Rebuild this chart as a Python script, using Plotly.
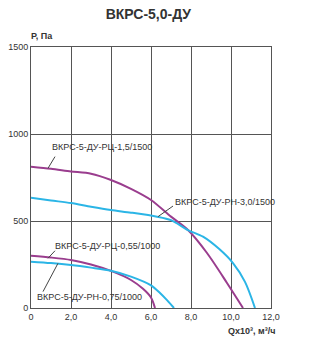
import plotly.graph_objects as go

# Data (flow Q x10^3 m3/h, pressure P Pa)
q_rc15 = [0, 1.0, 2.0, 3.0, 4.0, 5.0, 6.0, 7.0, 7.85, 8.8, 9.8, 10.6]
p_rc15 = [812, 800, 785, 772, 736, 685, 621, 525, 448, 316, 144, 0]

q_rn30 = [0, 1.0, 2.0, 3.0, 4.0, 5.0, 6.3, 7.0, 7.85, 8.6, 9.4, 10.1, 10.7, 11.2]
p_rn30 = [634, 618, 603, 582, 563, 548, 525, 505, 448, 410, 340, 258, 150, 0]

q_rc055 = [0, 1.0, 2.0, 3.0, 4.0, 5.0, 5.6, 6.0, 6.2]
p_rc055 = [300, 290, 276, 250, 213, 161, 110, 60, 0]

q_rn075 = [0, 1.0, 2.0, 3.0, 4.0, 5.0, 6.0, 6.45, 6.8, 7.15]
p_rn075 = [266, 258, 247, 232, 214, 180, 130, 86, 45, 0]

labels = ["ВКРС-5-ДУ-РЦ-1,5/1500", "ВКРС-5-ДУ-РН-3,0/1500",
          "ВКРС-5-ДУ-РЦ-0,55/1000", "ВКРС-5-ДУ-РН-0,75/1000"]
x_ticks = [0, 2, 4, 6, 8, 10, 12]
x_ticktext = ["0", "2,0", "4,0", "6,0", "8,0", "10,0", "12,0"]
y_ticks = [0, 500, 1000, 1500]

MAG = "#9A3D8E"
CYAN = "#2BB5E6"

fig = go.Figure()
for q, p, c in [(q_rc15, p_rc15, MAG), (q_rn30, p_rn30, CYAN),
                (q_rc055, p_rc055, MAG), (q_rn075, p_rn075, CYAN)]:
    fig.add_trace(go.Scatter(x=q, y=p, mode="lines",
                             line=dict(color=c, width=2, shape="spline", smoothing=0.8),
                             hoverinfo="skip", showlegend=False))

font = "Liberation Sans, Arial, sans-serif"
label_pos = [(0.95, 927), (7.1, 611), (1.1, 358), (0.2, 65)]
leaders = [((1.2, 870), (0.85, 803)), ((7.1, 586), (6.35, 525)),
           ((1.2, 329), (0.85, 286)), ((0.6, 94), (1.35, 257))]
annotations = []
for t, (lx, ly) in zip(labels, label_pos):
    annotations.append(dict(x=lx, y=ly, text=t, showarrow=False, xanchor="left",
                            yanchor="middle", font=dict(family=font, size=9, color="#333333")))
shapes = []
for (a, b) in leaders:
    shapes.append(dict(type="line", x0=a[0], y0=a[1], x1=b[0], y1=b[1],
                       line=dict(color="#444444", width=1)))

annotations.append(dict(x=0, y=1, xref="paper", yref="paper", text="<b>Р, Па</b>",
                        showarrow=False, xanchor="left", yanchor="bottom", xshift=-2, yshift=4,
                        font=dict(family=font, size=9, color="#333333")))
annotations.append(dict(x=1, y=0, xref="paper", yref="paper", text="<b>Qx10³, м³/ч</b>",
                        showarrow=False, xanchor="right", yanchor="top",
                        font=dict(family=font, size=9, color="#333333"), xshift=6, yshift=-16))

fig.update_layout(
    width=319, height=341,
    margin=dict(l=31, r=48, t=47, b=33, autoexpand=False),
    paper_bgcolor="white", plot_bgcolor="white",
    title=dict(text="<b>ВКРС-5,0-ДУ</b>", x=0.465, xanchor="center", y=0.96, yanchor="middle",
               font=dict(family=font, size=14, color="#333333")),
    xaxis=dict(range=[0, 12], tickvals=x_ticks, ticktext=x_ticktext, showgrid=True, automargin=False,
               gridcolor="#555555", gridwidth=1, zeroline=False, showline=True, linecolor="#555555",
               mirror=True, ticks="", tickfont=dict(family=font, size=9, color="#333333")),
    yaxis=dict(range=[0, 1500], tickvals=y_ticks, showgrid=True, gridcolor="#555555", automargin=False,
               gridwidth=1, zeroline=False, showline=True, linecolor="#555555", mirror=True,
               ticks="", tickfont=dict(family=font, size=9, color="#333333")),
    annotations=annotations, shapes=shapes,
)
fig.write_html("out.html")
